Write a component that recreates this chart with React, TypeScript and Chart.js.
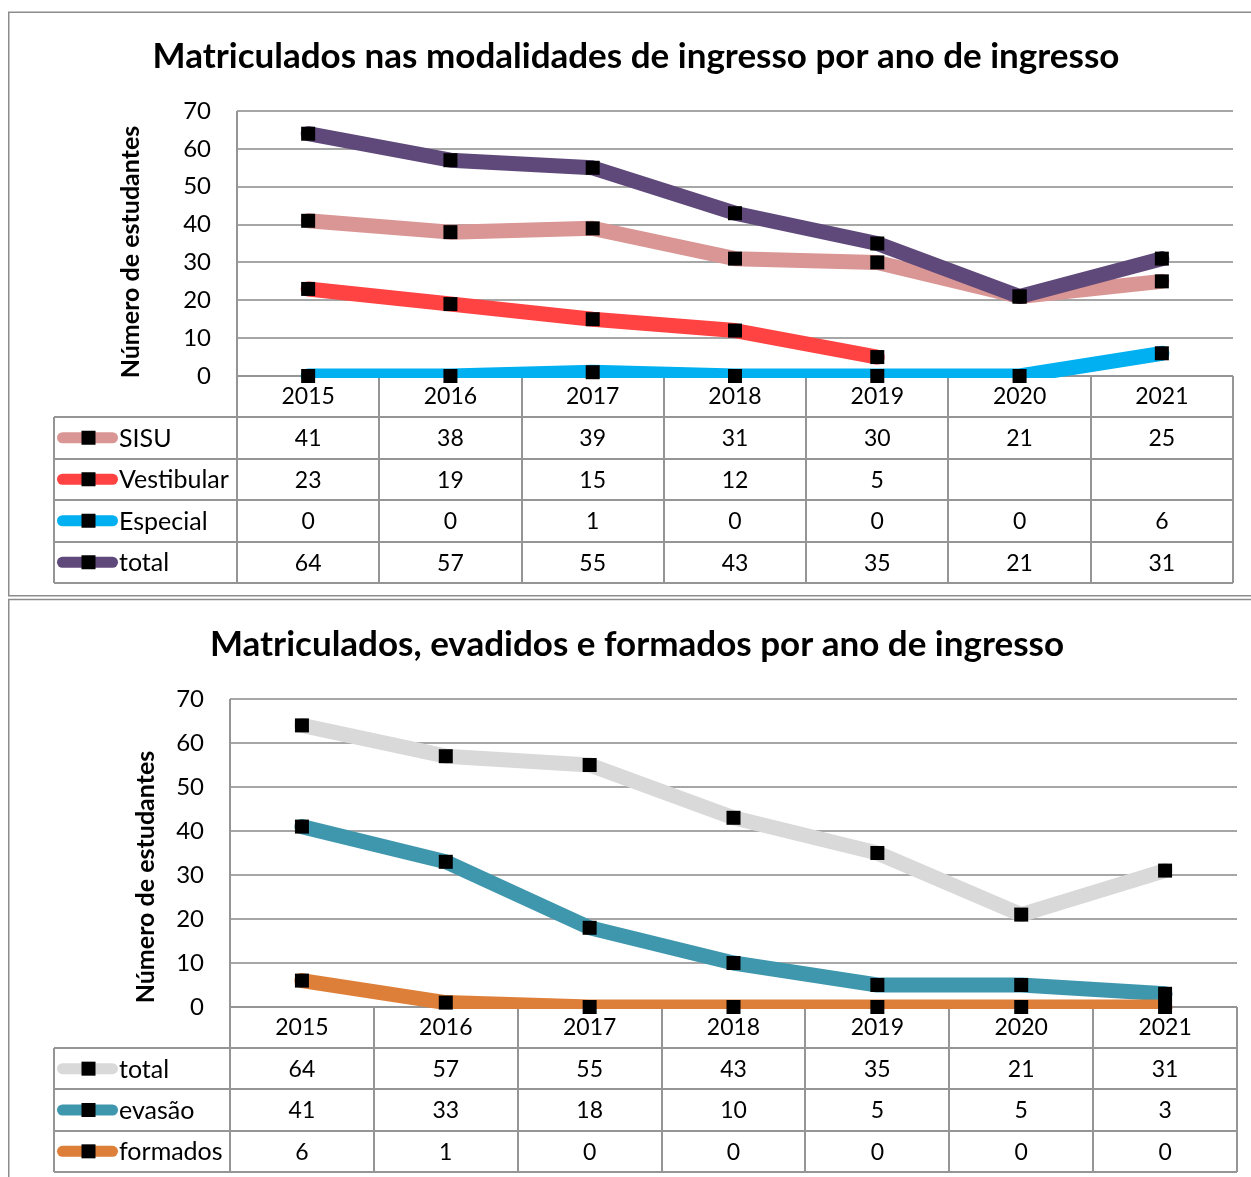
import React, { useEffect, useRef } from "react";
import { Chart, registerables } from "chart.js";

Chart.register(...registerables);

// ---------- data ----------
const years = ["2015", "2016", "2017", "2018", "2019", "2020", "2021"];
const yMin = 0;
const yMax = 70;
const yStep = 10;

const title1 = "Matriculados nas modalidades de ingresso por ano de ingresso";
const title2 = "Matriculados, evadidos e formados por ano de ingresso";
const yAxisTitle = "Número de estudantes";

const sisu = [41, 38, 39, 31, 30, 21, 25];
const vestibular = [23, 19, 15, 12, 5, null, null];
const especial = [0, 0, 1, 0, 0, 0, 6];
const total1 = [64, 57, 55, 43, 35, 21, 31];

const total2 = [64, 57, 55, 43, 35, 21, 31];
const evasao = [41, 33, 18, 10, 5, 5, 3];
const formados = [6, 1, 0, 0, 0, 0, 0];

const series1 = [
  { label: "SISU", data: sisu, color: "#D99694" },
  { label: "Vestibular", data: vestibular, color: "#FF4343" },
  { label: "Especial", data: especial, color: "#00B0F0" },
  { label: "total", data: total1, color: "#5F497A" },
];
const series2 = [
  { label: "total", data: total2, color: "#D9D9D9" },
  { label: "evasão", data: evasao, color: "#3F97AE" },
  { label: "formados", data: formados, color: "#DE7F39" },
];

const FONT = "Lato";

type Geo = {
  width: number;
  height: number;
  left: number;
  top: number;
  right: number;
  bottom: number;
  tableBottom: number;
  headerH: number;
  legendLeft: number;
  titleX: number;
  titleY: number;
  titleSize: number;
  yTitleX: number;
  yTitleY: number;
  frame: { x: number; y: number; w: number; h: number };
};

const geo1: Geo = {
  width: 1251,
  height: 598,
  left: 237,
  top: 111,
  right: 1233,
  bottom: 376,
  tableBottom: 583,
  headerH: 41,
  legendLeft: 54,
  titleX: 636,
  titleY: 57,
  titleSize: 35,
  yTitleX: 131,
  yTitleY: 252,
  frame: { x: 8.75, y: 12.25, w: 1300, h: 583.5 },
};

const geo2: Geo = {
  width: 1251,
  height: 579,
  left: 230,
  top: 101,
  right: 1237,
  bottom: 409,
  tableBottom: 574,
  headerH: 41,
  legendLeft: 54,
  titleX: 637,
  titleY: 47,
  titleSize: 35,
  yTitleX: 146,
  yTitleY: 279,
  frame: { x: 8.75, y: 1.5, w: 1300, h: 700 },
};

const excelPlugin = {
  id: "excelTable",
  beforeDraw(chart: any, _args: any, opts: any) {
    const ctx = chart.ctx as CanvasRenderingContext2D;
    const g: Geo = opts.geo;
    ctx.save();
    ctx.fillStyle = "#ffffff";
    ctx.fillRect(0, 0, chart.width, chart.height);
    ctx.strokeStyle = "#8c8c8c";
    ctx.lineWidth = 1.5;
    ctx.strokeRect(g.frame.x, g.frame.y, g.frame.w, g.frame.h);
    ctx.fillStyle = "#000";
    ctx.textAlign = "center";
    ctx.textBaseline = "middle";
    ctx.font = `bold ${g.titleSize}px ${FONT}`;
    ctx.fillText(opts.title, g.titleX, g.titleY);
    ctx.translate(g.yTitleX, g.yTitleY);
    ctx.rotate(-Math.PI / 2);
    ctx.font = `bold 25px ${FONT}`;
    ctx.fillText(yAxisTitle, 0, 0);
    ctx.restore();
  },
  beforeDatasetsDraw(chart: any, _args: any, opts: any) {
    const ctx = chart.ctx as CanvasRenderingContext2D;
    const g: Geo = opts.geo;
    const a = chart.chartArea;
    const xs = chart.scales.x;
    const rows = opts.rows as { label: string; data: (number | null)[]; color: string }[];
    const n = years.length;
    const colW = (a.right - a.left) / n;
    const headerBottom = a.bottom + g.headerH;
    const rowH = (g.tableBottom - headerBottom) / rows.length;
    ctx.save();
    ctx.strokeStyle = "#959595";
    ctx.lineWidth = 2;
    ctx.beginPath();
    ctx.moveTo(a.left, a.top);
    ctx.lineTo(a.left, g.tableBottom);
    for (let i = 1; i <= n; i++) {
      const xx = Math.round(a.left + i * colW);
      ctx.moveTo(xx, a.bottom);
      ctx.lineTo(xx, g.tableBottom);
    }
    ctx.moveTo(a.left, a.bottom);
    ctx.lineTo(a.right, a.bottom);
    for (let r = 0; r <= rows.length; r++) {
      const yy = Math.round(headerBottom + r * rowH);
      ctx.moveTo(g.legendLeft, yy);
      ctx.lineTo(a.right, yy);
    }
    ctx.moveTo(g.legendLeft, headerBottom);
    ctx.lineTo(g.legendLeft, g.tableBottom);
    ctx.stroke();

    ctx.textBaseline = "middle";
    rows.forEach((row, r) => {
      const cy = headerBottom + (r + 0.5) * rowH;
      ctx.font = `23px ${FONT}`;
      ctx.fillStyle = "#000";
      ctx.textAlign = "center";
      row.data.forEach((v, i) => {
        if (v === null || v === undefined) return;
        ctx.fillText(String(v), xs.getPixelForValue(i), cy + 1);
      });
      ctx.strokeStyle = row.color;
      ctx.lineWidth = 11;
      ctx.lineCap = "round";
      ctx.beginPath();
      ctx.moveTo(g.legendLeft + 8.5, cy);
      ctx.lineTo(g.legendLeft + 58.5, cy);
      ctx.stroke();
      ctx.fillStyle = "#000";
      ctx.fillRect(g.legendLeft + 27.5, cy - 7, 14, 14);
      ctx.textAlign = "left";
      ctx.font = `25px ${FONT}`;
      ctx.fillText(row.label, g.legendLeft + 65, cy + 1);
    });
    ctx.restore();
  },
};

function makeConfig(series: typeof series1, title: string, g: Geo): any {
  const lineSets = series.map((s, i) => ({
    label: s.label,
    data: s.data,
    borderColor: s.color,
    backgroundColor: s.color,
    borderWidth: 15,
    borderJoinStyle: "round",
    borderCapStyle: "round",
    tension: 0,
    pointRadius: 0,
    fill: false,
    order: 10 - i,
    clip: { left: false, top: false, right: false, bottom: 2 },
  }));
  const markerSets = series.map((s) => ({
    label: s.label + " marcador",
    data: s.data,
    showLine: false,
    pointStyle: "rect",
    pointRadius: 9.9,
    pointBorderWidth: 0,
    pointBackgroundColor: "#000",
    borderColor: "#000",
    backgroundColor: "#000",
    order: 0,
    clip: false,
  }));
  return {
    type: "line",
    data: { labels: years, datasets: [...lineSets, ...markerSets] },
    options: {
      animation: false,
      responsive: false,
      devicePixelRatio: 1,
      events: [],
      layout: {
        padding: {
          left: 0,
          top: g.top,
          right: g.width - g.right,
          bottom: g.height - g.tableBottom,
        },
      },
      plugins: {
        legend: { display: false },
        tooltip: { enabled: false },
        title: { display: false },
        excelTable: { geo: g, rows: series, title },
      },
      scales: {
        x: {
          type: "category",
          offset: true,
          grid: { display: false, drawTicks: false },
          border: { display: false },
          ticks: {
            color: "#000",
            padding: 9,
            font: { family: FONT, size: 23, lineHeight: 1 },
            maxRotation: 0,
            autoSkip: false,
          },
          afterFit(scale: any) {
            scale.height = g.tableBottom - g.bottom;
          },
        },
        y: {
          min: yMin,
          max: yMax,
          grid: { color: "#a6a6a6", lineWidth: 2, drawTicks: false },
          border: { display: false },
          ticks: {
            stepSize: yStep,
            color: "#000",
            padding: 26,
            font: { family: FONT, size: 24 },
          },
          afterFit(scale: any) {
            scale.width = g.left;
          },
        },
      },
    },
    plugins: [excelPlugin],
  };
}

function ExcelChart({ series, title, g, top }: { series: typeof series1; title: string; g: Geo; top: number }) {
  const ref = useRef<HTMLCanvasElement | null>(null);
  useEffect(() => {
    if (!ref.current) return;
    const chart = new Chart(ref.current, makeConfig(series, title, g));
    return () => chart.destroy();
  }, []);
  return (
    <canvas
      ref={ref}
      width={g.width}
      height={g.height}
      style={{ position: "absolute", left: 0, top, width: g.width, height: g.height, display: "block" }}
    />
  );
}

export default function App() {
  return (
    <div
      style={{
        position: "fixed",
        left: 0,
        top: 0,
        width: 1251,
        height: 1177,
        overflow: "hidden",
        background: "#fff",
      }}
    >
      <ExcelChart series={series1} title={title1} g={geo1} top={0} />
      <ExcelChart series={series2} title={title2} g={geo2} top={598} />
    </div>
  );
}
